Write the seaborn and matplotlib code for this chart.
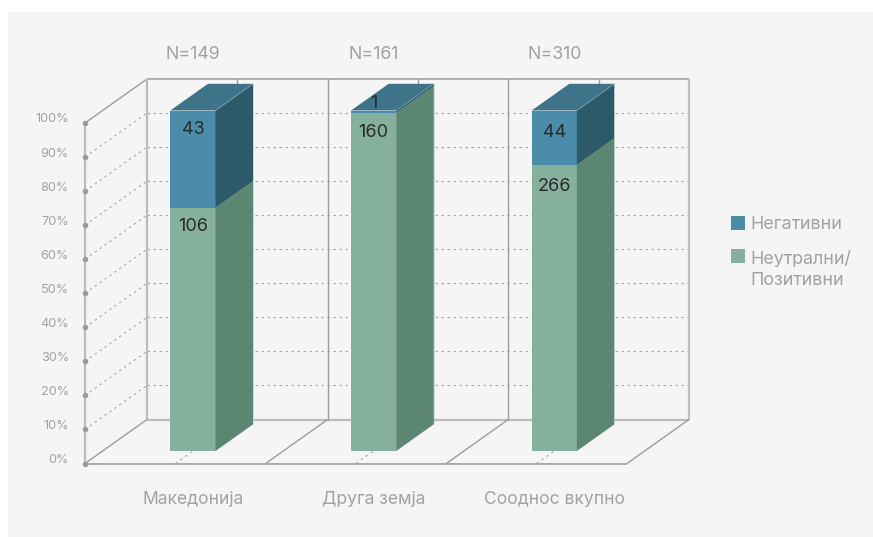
#3d 느낌 누적 막대 차트
import matplotlib
matplotlib.use('Agg')
import matplotlib.pyplot as plt
from matplotlib.patches import Rectangle
from matplotlib.transforms import ScaledTranslation
import seaborn as sns

#차트 데이터
categories = ['Македонија', 'Друга земја', 'Сооднос вкупно']
totals = ['N=149', 'N=161', 'N=310']
neutral_pct = [71.4, 99.3, 84.0]
negative_pct = [28.6, 0.7, 16.0]
neutral_counts = ['106', '160', '266']
negative_counts = ['43', '1', '44']
percent_ticks = [0, 10, 20, 30, 40, 50, 60, 70, 80, 90, 100]
percent_labels = ['0%', '10%', '20%', '30%', '40%', '50%', '60%', '70%', '80%', '90%', '100%']

W, H = 873, 537
PX_X = 180.67   #카테고리 1칸 픽셀
PX_Y = 3.405    #1% 픽셀
DX = 62 / PX_X  #벽 깊이
DY = 44 / PX_Y
FRONT = -12.5 / 44        #막대 앞면 기준 바닥 앞쪽 깊이
BAR_DEPTH = 26.7 / 44

GREY = '#a2a2a2'
LINE = '#9c9c9c'
LIGHT = '#bcbcbc'
BG = '#f5f5f5'

sns.set_theme(style='white')
plt.rcParams['font.family'] = ['Inter', 'DejaVu Sans']

fig = plt.figure(figsize=(W / 100, H / 100), dpi=100, facecolor='white')
fig.add_artist(Rectangle((8 / W, 0), 1, 1 - 12 / H, transform=fig.transFigure,
                         facecolor=BG, edgecolor='none', zorder=-1))
ax = fig.add_axes([102.6 / W, 1 - 451 / H, 542 / W, 340.5 / H])
ax.patch.set_alpha(0)


def proj(x, y, d):
    return x + d * DX, y + d * DY


def line(p0, p1, color=LINE, lw=1.0, ls='-', z=0.5):
    ax.plot([p0[0], p1[0]], [p0[1], p1[1]], color=color, lw=lw, ls=ls, zorder=z,
            clip_on=False, solid_capstyle='butt')


sns.barplot(x=categories, y=neutral_pct, color='#85b09e', saturation=1, width=0.25,
            ax=ax, label='Неутрални/\nПозитивни', zorder=3, linewidth=0)
sns.barplot(x=categories, y=negative_pct, bottom=neutral_pct, color='#4a8ca9', saturation=1,
            width=0.25, ax=ax, label='Негативни', zorder=3, linewidth=0)
ax.set_xlim(-0.5, 2.5)
ax.set_ylim(0, 100)

#옆면, 윗면
for container, side in zip(ax.containers, ['#5a8672', '#2d5a69']):
    for bar in container:
        x1 = bar.get_x() + bar.get_width()
        y0 = bar.get_y()
        y1 = y0 + bar.get_height()
        pts = [(x1, y0), (x1, y1), proj(x1, y1, BAR_DEPTH), proj(x1, y0, BAR_DEPTH)]
        ax.fill(*zip(*pts), color=side, lw=0, zorder=3, clip_on=False)
for bar in ax.containers[1]:
    x0 = bar.get_x()
    x1 = x0 + bar.get_width()
    y1 = bar.get_y() + bar.get_height()
    pts = [(x0, y1), (x1, y1), proj(x1, y1, BAR_DEPTH), proj(x0, y1, BAR_DEPTH)]
    ax.fill(*zip(*pts), color='#3f7389', lw=0, zorder=3, clip_on=False)
    line((x1, y1), proj(x1, y1, BAR_DEPTH), color='#6f9fb3', lw=0.6, z=3.5)
    line(proj(x1, 0, BAR_DEPTH), proj(x1, y1, BAR_DEPTH), color='#c4d6ce', lw=0.5, z=3.5)

#벽, 바닥
BACK = FRONT + 1
left = -0.5
right = 2.5
for p in percent_ticks[1:-1]:
    line(proj(left, p, FRONT), proj(left, p, BACK), color='#a8a8a8', ls=(0, (2.2, 3.2)), lw=0.8)
    line(proj(left, p, BACK), proj(right, p, BACK), color='#a8a8a8', ls=(0, (2.2, 3.2)), lw=0.8)
line(proj(left, 100, FRONT), proj(left, 100, BACK))
line(proj(left, 100, BACK), proj(right, 100, BACK), lw=1.1)
line(proj(left, 0, FRONT), proj(left, 100, FRONT), color=LIGHT, lw=1.6)
line(proj(left, 0, BACK), proj(left, 100, BACK), color=LIGHT, lw=1.6)
line(proj(right, 0, BACK), proj(right, 100, BACK), color=LIGHT, lw=1.6)
line(proj(left, 0, BACK), proj(right, 0, BACK), color=LIGHT, lw=1.6)
line(proj(left, 0, FRONT), proj(right, 0, FRONT), lw=1.2)
for i in range(4):
    line(proj(left + i, 0, FRONT), proj(left + i, 0, BACK))
for i in [1, 2]:
    line(proj(left + i, 0, BACK), proj(left + i, 100, BACK))
for i in range(3):
    line(proj(i, 0, FRONT), proj(i, 0, BACK), color='#a8a8a8', ls=(0, (2.2, 3.2)), lw=0.8)
    line(proj(i, 0, BACK), proj(i, 100, BACK))
fx, fy = proj(left, 0, FRONT)
ax.scatter([fx] * len(percent_ticks), [fy + p for p in percent_ticks], s=16, color='#9a9a9a',
           linewidths=0, zorder=2, clip_on=False)

#축 라벨
sns.despine(ax=ax, left=True, bottom=True)
ax.set_xticks(range(3), categories)
ax.set_yticks(percent_ticks, percent_labels)
ax.tick_params(axis='x', length=0, pad=29, labelsize=12.6, labelcolor=GREY)
ax.tick_params(axis='y', length=0, pad=24.2, labelsize=9.2, labelcolor=GREY)
for t in ax.get_yticklabels():
    t.set_transform(t.get_transform() + ScaledTranslation(0, -0.075, fig.dpi_scale_trans))
for i, t in enumerate(totals):
    ax.annotate(t, (i, 100), xytext=(0, 40), textcoords='offset points', ha='center', va='center',
                fontsize=12.8, color=GREY)

#값 라벨
neutral_offset = [-18.5, -20, -21.5]
negative_offset = [-18.5, 7, -22]
for i in range(3):
    ax.annotate(neutral_counts[i], (i, neutral_pct[i]), xytext=(0, neutral_offset[i] * 0.72),
                textcoords='offset points', ha='center', va='center', fontsize=13,
                color='#2b2b2b', zorder=5)
    ax.annotate(negative_counts[i], (i, 100), xytext=(0, negative_offset[i] * 0.72),
                textcoords='offset points', ha='center', va='center', fontsize=13,
                color='#2b2b2b', zorder=5)

handles, labels = ax.get_legend_handles_labels()
leg = ax.legend(handles[::-1], labels[::-1], loc='upper left', bbox_to_anchor=(715 / W, 1 - 200 / H),
                bbox_transform=fig.transFigure, frameon=False, fontsize=12.9, labelcolor=GREY,
                handlelength=0.8, handleheight=0.8, handletextpad=0.3, labelspacing=1.0)
for t in leg.get_texts():
    t.set_linespacing(1.33)
#두 줄 라벨은 사각형을 첫 줄에 맞춤
h2 = leg.legend_handles[1]
h2.set_y(h2.get_y() + 10.5)

fig.savefig('out.png', dpi=100)
